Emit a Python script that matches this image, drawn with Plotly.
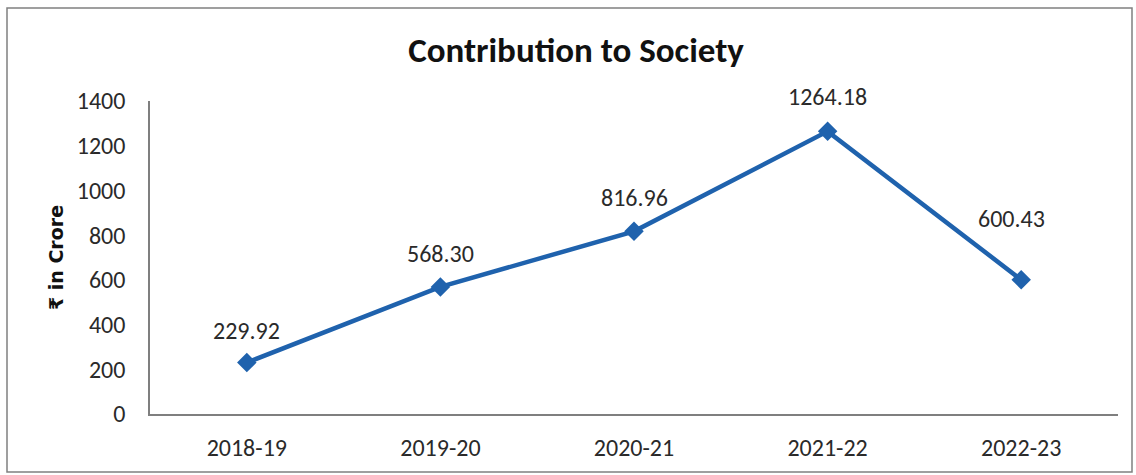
import plotly.graph_objects as go

years = ["2018-19", "2019-20", "2020-21", "2021-22", "2022-23"]
values = [229.92, 568.30, 816.96, 1264.18, 600.43]
labels = ["229.92", "568.30", "816.96", "1264.18", "600.43"]

# label placement offsets (pixels), styling only
label_dx = [0, 0, 0, 0, -10]
label_dy = [32, 33, 34, 35, 61]

W, H = 1136, 475
L, R, T, B = 150, 18, 101, 61
pw, ph = W - L - R, H - T - B

def px_x(p):
    return (p - L) / pw

def px_y(p):
    return (H - B - p) / ph

blue = "#1f62ad"
font_fam = "Carlito, Lato, 'DejaVu Sans', sans-serif"
txt = "#2a2a2a"

fig = go.Figure()
fig.add_trace(go.Scatter(
    x=years, y=values, mode="lines+markers",
    line=dict(color=blue, width=4.5),
    marker=dict(symbol="diamond", size=15, color=blue),
    hoverinfo="skip", showlegend=False,
))

for yr, v, t, dx, dy in zip(years, values, labels, label_dx, label_dy):
    fig.add_annotation(x=yr, y=v, text=t, showarrow=False, xshift=dx, yshift=dy,
                       font=dict(size=24, color=txt, family=font_fam))

fig.add_shape(type="rect", xref="paper", yref="paper",
              x0=px_x(7), x1=px_x(1132), y0=px_y(472), y1=px_y(8),
              line=dict(color="#808080", width=1.5), fillcolor="rgba(0,0,0,0)", layer="below")

fig.update_layout(
    width=W, height=H,
    margin=dict(l=L, r=R, t=T, b=B),
    paper_bgcolor="white", plot_bgcolor="white",
    font=dict(family=font_fam, color=txt, size=24),
    title=dict(text="<b>Contribution to Society</b>", x=px_x(576), xref="paper", xanchor="center",
               y=1 - 50 / H, yanchor="middle", font=dict(size=35, color="#111111", family=font_fam)),
    xaxis=dict(range=[-0.5, 4.5], showgrid=False, zeroline=False, showline=True, linecolor="#7f7f7f",
               linewidth=1.5, ticks="", ticklabelstandoff=11, tickfont=dict(size=24)),
    yaxis=dict(range=[0, 1400], dtick=200, showgrid=False, zeroline=False, showline=True,
               linecolor="#7f7f7f", linewidth=1.5, ticks="", ticklabelstandoff=18,
               tickfont=dict(size=24),
               title=dict(text="<b>₹ in Crore</b>", standoff=8,
                          font=dict(size=19, color="#111111", family="'DejaVu Sans', sans-serif"))),
)

fig.write_html("out.html")
